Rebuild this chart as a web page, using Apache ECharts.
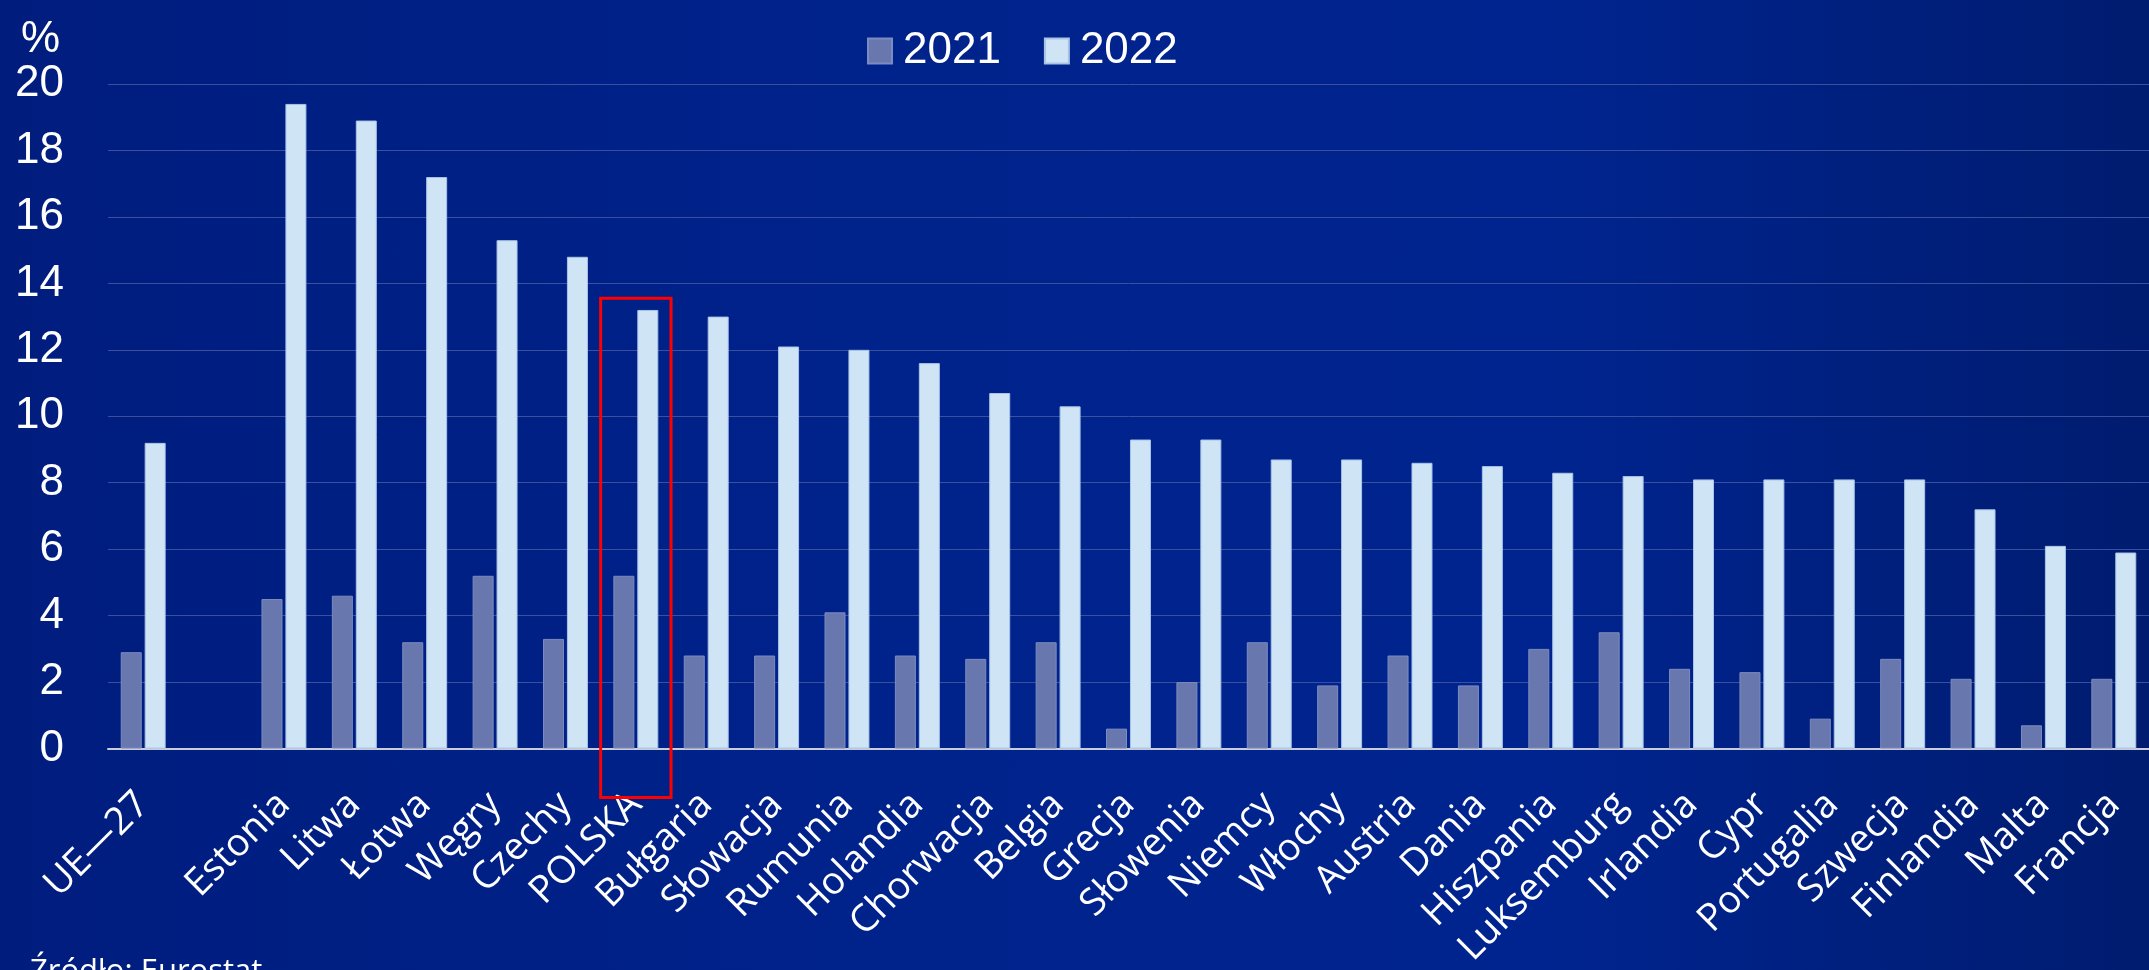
<!DOCTYPE html>
<html>
<head>
<meta charset="utf-8">
<script src="https://cdn.jsdelivr.net/npm/echarts@6/dist/echarts.min.js"></script>
<style>
  html, body { margin: 0; padding: 0; }
  #main {
    width: 2149px; height: 970px;
    background: linear-gradient(90deg, #001d7e 0%, #00228b 40%, #00248f 72%, #001c70 100%);
  }
</style>
</head>
<body>
<div id="main"></div>
<script>
// dane
var kraje = ['UE\u201427', '', 'Estonia', 'Litwa', '\u0141otwa', 'W\u0119gry', 'Czechy', 'POLSKA', 'Bu\u0142garia',
  'S\u0142owacja', 'Rumunia', 'Holandia', 'Chorwacja', 'Belgia', 'Grecja', 'S\u0142owenia', 'Niemcy',
  'W\u0142ochy', 'Austria', 'Dania', 'Hiszpania', 'Luksemburg', 'Irlandia', 'Cypr', 'Portugalia',
  'Szwecja', 'Finlandia', 'Malta', 'Francja'];
var dane2021 = [2.9, null, 4.5, 4.6, 3.2, 5.2, 3.3, 5.2, 2.8, 2.8, 4.1, 2.8, 2.7, 3.2, 0.6, 2.0, 3.2,
  1.9, 2.8, 1.9, 3.0, 3.5, 2.4, 2.3, 0.9, 2.7, 2.1, 0.7, 2.1];
var dane2022 = [9.2, null, 19.4, 18.9, 17.2, 15.3, 14.8, 13.2, 13.0, 12.1, 12.0, 11.6, 10.7, 10.3, 9.3, 9.3, 8.7,
  8.7, 8.6, 8.5, 8.3, 8.2, 8.1, 8.1, 8.1, 8.1, 7.2, 6.1, 5.9];
var lata = ['2021', '2022'];
var wyrozniony = 'POLSKA';
var gornaRamka = 13.55;

var dom = document.getElementById('main');
var myChart = echarts.init(dom);

var font = '"Liberation Sans", Arial, sans-serif';
var fontEtykiet = '"Open Sans", "Noto Sans", sans-serif';

var zrodlo = {
    type: 'text',
    left: 30,
    top: 957,
    style: { text: '\u0179r\u00f3d\u0142o: Eurostat', fill: '#fff', fontSize: 31, fontFamily: fontEtykiet }
};

option = {
    animation: false,
    title: {
        text: '%',
        left: 16,
        top: 13,
        textStyle: { color: '#fff', fontSize: 44, fontWeight: 'normal', fontFamily: font }
    },
    legend: {
        data: lata,
        left: 862,
        top: 21,
        icon: 'rect',
        itemWidth: 24,
        itemHeight: 25,
        itemGap: 43,
        textStyle: { color: '#fff', fontSize: 44, fontFamily: font, lineHeight: 50, padding: [0, 0, 0, 6] }
    },
    grid: { left: 108, right: -6, top: 84, bottom: 220 },
    xAxis: {
        type: 'category',
        data: kraje,
        axisTick: { show: false },
        axisLine: { lineStyle: { color: '#c9cdd8', width: 2 } },
        axisLabel: {
            color: '#fff',
            fontSize: 38,
            fontFamily: fontEtykiet,
            rotate: 45,
            interval: 0,
            margin: 50
        }
    },
    yAxis: {
        type: 'value',
        min: 0,
        max: 20,
        interval: 2,
        axisLabel: { color: '#fff', fontSize: 44, fontFamily: font, margin: 44 },
        splitLine: { lineStyle: { color: '#3a4f9e', width: 1 } }
    },
    series: [
        {
            name: '2021',
            type: 'bar',
            data: dane2021,
            barWidth: 21,
            barGap: '14%',
            itemStyle: { color: '#6877ad', borderColor: '#7d8cc0', borderWidth: 1 }
        },
        {
            name: '2022',
            type: 'bar',
            data: dane2022,
            barWidth: 21,
            itemStyle: { color: '#cfe5f5', borderColor: '#a9c3e6', borderWidth: 1 }
        }
    ],
    graphic: [zrodlo]
};
myChart.setOption(option);

// czerwona ramka wokół kategorii POLSKA
var idx = kraje.indexOf(wyrozniony);
var srodek = myChart.convertToPixel({ xAxisIndex: 0 }, wyrozniony);
var nast = myChart.convertToPixel({ xAxisIndex: 0 }, kraje[idx + 1]);
var szer = nast - srodek;
var yGora = myChart.convertToPixel({ yAxisIndex: 0 }, gornaRamka);
var yZero = myChart.convertToPixel({ yAxisIndex: 0 }, 0);
myChart.setOption({
    graphic: [
        zrodlo,
        {
            type: 'rect',
            shape: { x: srodek - szer / 2, y: yGora, width: szer, height: yZero + 49 - yGora },
            style: { fill: 'none', stroke: '#ff0000', lineWidth: 3 },
            z: 10
        }
    ]
});
</script>
</body>
</html>
